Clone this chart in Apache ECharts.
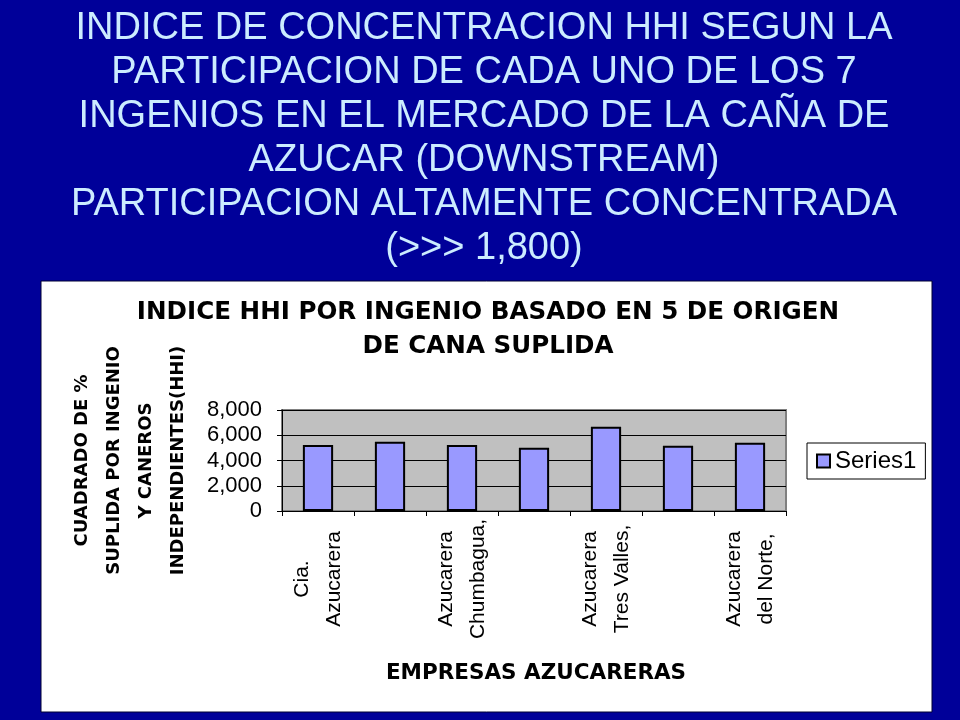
<!DOCTYPE html>
<html><head><meta charset="utf-8">
<script src="https://cdn.jsdelivr.net/npm/echarts@6/dist/echarts.min.js"></script>
<style>html,body{margin:0;padding:0;background:#000099;}#c{width:960px;height:720px;}</style>
</head><body><div id="c"></div>
<script>
const slideTitle = "INDICE DE CONCENTRACION HHI SEGUN LA\nPARTICIPACION DE CADA UNO DE LOS 7\nINGENIOS EN EL MERCADO DE LA CAÑA DE\nAZUCAR (DOWNSTREAM)\nPARTICIPACION ALTAMENTE CONCENTRADA\n(>>> 1,800)";
const chartTitle = "INDICE HHI POR INGENIO BASADO EN 5 DE ORIGEN\nDE CANA SUPLIDA";
const yTitle = "CUADRADO DE %\nSUPLIDA POR INGENIO\nY CANEROS\nINDEPENDIENTES(HHI)";
const xTitle = "EMPRESAS AZUCARERAS";
const categories = ["Cia.\nAzucarera", "Azucarera\nCholuteca,", "Azucarera\nChumbagua,", "Azucarera\nLa Grecia,", "Azucarera\nTres Valles,", "Azucarera\nYojoa,", "Azucarera\ndel Norte,"];
const seriesName = "Series1";
const values = [5220, 5480, 5220, 5010, 6680, 5170, 5400];
const yTicks = [0, 2000, 4000, 6000, 8000];

const BOLD = '"DejaVu Sans", Verdana, sans-serif';
const REG = '"Liberation Sans", Arial, sans-serif';
const chart = echarts.init(document.getElementById('c'));
chart.setOption({
  backgroundColor: '#000099',
  animation: false,
  title: [{
    text: slideTitle, left: 479, top: 2, textAlign: 'center',
    textStyle: {color: '#CCECFF', fontFamily: REG, fontSize: 38, fontWeight: 'normal', lineHeight: 44, align: 'center'}
  }, {
    text: chartTitle, left: 483, top: 291, textAlign: 'center',
    textStyle: {color: '#000', fontFamily: BOLD, fontSize: 24.6, fontWeight: 'bold', lineHeight: 34, align: 'center'}
  }],
  graphic: [{
    type: 'rect', z: -10, silent: true,
    shape: {x: 41, y: 281, width: 891, height: 431},
    style: {fill: '#ffffff', stroke: '#000033', lineWidth: 1}
  }, {
    type: 'text', z: 5, x: 536, y: 662,
    style: {text: xTitle, fill: '#000', font: 'bold 21.5px "DejaVu Sans", Verdana, sans-serif', textAlign: 'center'}
  }],
  legend: {
    data: [seriesName], left: 807, top: 443, orient: 'vertical',
    backgroundColor: '#fff', borderColor: '#000', borderWidth: 1,
    padding: [6, 9, 6, 9], itemWidth: 13, itemHeight: 13, itemGap: 5, icon: 'rect',
    textStyle: {color: '#000', fontFamily: REG, fontSize: 24, padding: [0,0,0,0]}
  },
  grid: {left: 282, right: 174, top: 410, bottom: 209, show: true, backgroundColor: '#C0C0C0', borderColor: '#808080', borderWidth: 2},
  xAxis: {
    type: 'category', data: categories, boundaryGap: true,
    axisLine: {lineStyle: {color: '#000', width: 1}},
    axisTick: {show: true, interval: 0, length: 5, lineStyle: {color: '#000'}},
    axisLabel: {interval: 1, rotate: 90, align: 'center', verticalAlign: 'middle', margin: 68,
      color: '#000', fontFamily: REG, fontSize: 21, lineHeight: 32}
  },
  yAxis: {
    type: 'value', min: 0, max: 8000, interval: 2000,
    name: yTitle, nameLocation: 'middle', nameRotate: 90, nameGap: 88,
    nameTextStyle: {color: '#000', fontFamily: BOLD, fontSize: 18, fontWeight: 'bold', lineHeight: 32, align: 'center'},
    axisLine: {show: true, lineStyle: {color: '#000'}},
    axisTick: {show: true, length: 5, lineStyle: {color: '#000'}},
    splitLine: {lineStyle: {color: '#000', width: 1}},
    axisLabel: {color: '#000', fontFamily: REG, fontSize: 22, margin: 20,
      formatter: v => v.toLocaleString('en-US')}
  },
  series: [{
    name: seriesName, type: 'bar', data: values, barWidth: '42%',
    itemStyle: {color: '#9999FF', borderColor: '#000', borderWidth: 2}
  }]
});
</script></body></html>
